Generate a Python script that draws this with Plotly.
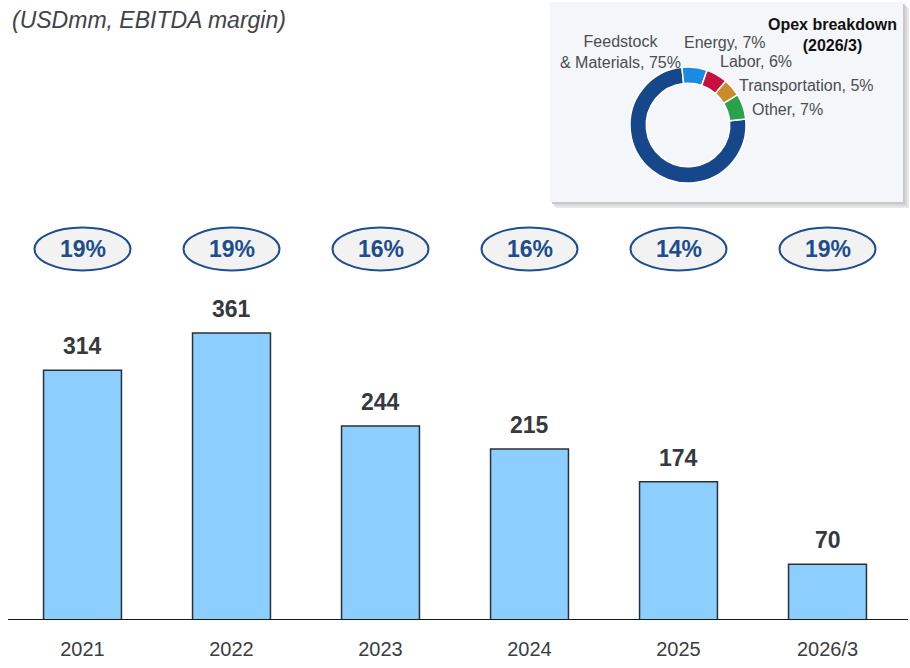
import plotly.graph_objects as go

# ---------------- data ----------------
years = ["2021", "2022", "2023", "2024", "2025", "2026/3"]
ebitda = [314, 361, 244, 215, 174, 70]
margin_pct = [19, 19, 16, 16, 14, 19]

opex_labels = ["Feedstock<br>& Materials", "Energy", "Labor", "Transportation", "Other"]
opex_values = [75, 7, 6, 5, 7]
opex_colors = ["#16478a", "#1a8be0", "#c8103f", "#c98b2c", "#2aa14b"]

# ---------------- geometry helpers (pixels -> paper) ----------------
W, H = 910, 668
ML, MR, MT, MB = 8, 8, 0, 48
PW, PH = W - ML - MR, H - MT - MB


def px(xp):
    return (xp - ML) / PW


def py(yp):
    return (MT + PH - yp) / PH


PX_PER_UNIT = 0.795
YMAX = PH / PX_PER_UNIT

FONT = "Liberation Sans, Arial, sans-serif"
DARK = "#36393e"
BLUE = "#1c4d8d"

fig = go.Figure()

fig.add_trace(go.Bar(
    x=years, y=ebitda,
    marker=dict(color="#8ccfff", line=dict(color="#2b2f36", width=1.5)),
    hoverinfo="skip",
    showlegend=False,
))

# donut
fig.add_trace(go.Pie(
    labels=opex_labels, values=opex_values,
    marker=dict(colors=opex_colors, line=dict(color="white", width=1.5)),
    hole=0.72, sort=False, direction="clockwise", rotation=84,
    textinfo="none", hoverinfo="skip", showlegend=False,
    domain=dict(x=[px(688 - 58), px(688 + 58)], y=[py(125 + 58), py(125 - 58)]),
))

shapes = []
annotations = []

# inset box with soft shadow
for i, c in enumerate(["#e8e8e8", "#d8d8d8", "#c8c8c8"]):
    off = 6 - 2 * i
    shapes.append(dict(type="rect", xref="paper", yref="paper", layer="below",
                       x0=px(552 + off - 2), x1=px(903 + off), y0=py(202 + off), y1=py(4 + off - 2),
                       fillcolor=c, line=dict(width=0)))
shapes.append(dict(type="rect", xref="paper", yref="paper", layer="below",
                   x0=px(550), x1=px(903), y0=py(202), y1=py(2),
                   fillcolor="#f5f6f9", line=dict(width=0)))

# baseline
shapes.append(dict(type="line", xref="paper", yref="y", x0=px(8), x1=px(908), y0=0, y1=0,
                   line=dict(color="#1a1a1a", width=2)))

# margin ellipses
ELL_Y = (620 - 249) / PX_PER_UNIT
ELL_HH = 21.5 / PX_PER_UNIT
ELL_HW = 0.322
for i, m in enumerate(margin_pct):
    shapes.append(dict(type="circle", xref="x", yref="y", layer="above",
                       x0=i - ELL_HW, x1=i + ELL_HW, y0=ELL_Y - ELL_HH, y1=ELL_Y + ELL_HH,
                       fillcolor="#f2f2f2", line=dict(color=BLUE, width=2)))
    annotations.append(dict(x=i, y=ELL_Y, xref="x", yref="y", text=f"<b>{m}%</b>",
                            showarrow=False, font=dict(family=FONT, size=23, color=BLUE)))

# bar value labels
for i, v in enumerate(ebitda):
    annotations.append(dict(x=i, y=v, xref="x", yref="y", text=f"<b>{v}</b>",
                            showarrow=False, yanchor="middle", yshift=24,
                            font=dict(family=FONT, size=23, color=DARK)))

# title
annotations.append(dict(x=px(10), y=py(20), xref="paper", yref="paper", xanchor="left",
                        yanchor="middle", showarrow=False,
                        text="<i>(USDmm, EBITDA margin)</i>",
                        font=dict(family=FONT, size=23, color="#404348")))

# inset title
annotations.append(dict(x=px(832), y=py(35), xref="paper", yref="paper", xanchor="center",
                        yanchor="middle", showarrow=False,
                        text="<b>Opex breakdown<br>(2026/3)</b>",
                        font=dict(family=FONT, size=16, color="#111111")))

# donut labels
lab_font = dict(family=FONT, size=16, color="#4a4d52")
pie_label_pos = [
    (620, 52, "center"),
    (682, 42, "left"),
    (718, 62, "left"),
    (737, 86, "left"),
    (750, 110, "left"),
]
for lab, val, (xp, yp, anc) in zip(opex_labels, opex_values, pie_label_pos):
    annotations.append(dict(x=px(xp), y=py(yp), xref="paper", yref="paper", xanchor=anc,
                            yanchor="middle", showarrow=False, align="center",
                            text=f"{lab}, {val}%", font=lab_font))

fig.update_layout(
    width=W, height=H,
    margin=dict(l=ML, r=MR, t=MT, b=MB, pad=0),
    paper_bgcolor="white", plot_bgcolor="rgba(0,0,0,0)",
    bargap=0.477,
    xaxis=dict(type="category", range=[-0.5, 5.5], showline=False, showgrid=False,
               zeroline=False, ticks="", fixedrange=True,
               tickfont=dict(family=FONT, size=20, color="#3a3d42"), ticklabelstandoff=15),
    yaxis=dict(range=[0, YMAX], visible=False, showgrid=False, zeroline=False, fixedrange=True),
    shapes=shapes, annotations=annotations,
    showlegend=False,
)

fig.write_html(
    "out.html",
    config={"displayModeBar": False},
    post_script="document.body.style.margin='0';document.body.style.overflow='hidden';",
)
